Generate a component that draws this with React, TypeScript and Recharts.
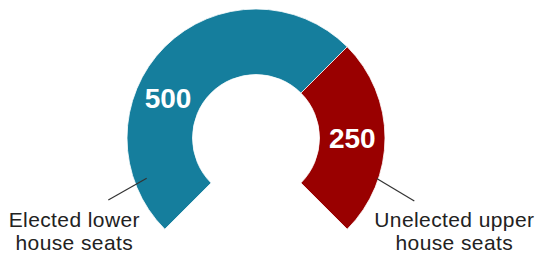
import { PieChart, Pie, Cell } from "recharts"

const categories = ["Elected lower house seats", "Unelected upper house seats"]
const seats = [500, 250]
const colors = ["#157e9d", "#990000"]
const captionLines = [
  ["Elected lower", "house seats"],
  ["Unelected upper", "house seats"],
]

const data = categories.map((name, i) => ({ name, value: seats[i] }))

const RAD = Math.PI / 180
const font = "'Liberation Sans', Arial, Helvetica, sans-serif"

// where the big number sits along the ring (degrees, recharts convention)
const valueAngles = [156, 0]
// leader lines: start/end given as angle + radius from the pie centre
const leaders = [
  { a1: 200.2, r1: 116.5, a2: 202.8, r2: 160.2 },
  { a1: -18.5, r1: 127.3, a2: -21.7, r2: 170.4 },
]
// caption centre relative to the outer end of the leader
const captionOffsets = [
  { dx: -34, dy: 27 },
  { dx: 40, dy: 26 },
]

const polar = (cx: number, cy: number, r: number, a: number) => ({
  x: cx + r * Math.cos(-a * RAD),
  y: cy + r * Math.sin(-a * RAD),
})

function SeatLabel(props: any) {
  const { cx, cy, innerRadius, outerRadius, index, value } = props
  const mid = (innerRadius + outerRadius) / 2
  const p = polar(cx, cy, mid, valueAngles[index])
  const l = leaders[index]
  const s = polar(cx, cy, l.r1, l.a1)
  const e = polar(cx, cy, l.r2, l.a2)
  const off = captionOffsets[index]
  return (
    <g>
      <text
        x={p.x}
        y={p.y}
        textAnchor="middle"
        dominantBaseline="central"
        fill="#fff"
        fontSize={28}
        fontWeight="bold"
        fontFamily={font}
      >
        {value}
      </text>
      <line x1={s.x} y1={s.y} x2={e.x} y2={e.y} stroke="#333" strokeWidth={1.2} />
      <text
        x={e.x + off.dx}
        y={e.y + off.dy}
        textAnchor="middle"
        fill="#222"
        fontSize={21}
        letterSpacing={0.4}
        fontFamily={font}
      >
        {captionLines[index].map((line, i) => (
          <tspan key={i} x={e.x + off.dx} dy={i === 0 ? 0 : 23}>
            {line}
          </tspan>
        ))}
      </text>
    </g>
  )
}

export default function App() {
  return (
    <div style={{ position: "absolute", left: 0, top: 0, background: "#fff" }}>
      <PieChart width={539} height={256} margin={{ top: 0, right: 0, bottom: 0, left: 0 }}>
        <Pie
          data={data}
          dataKey="value"
          nameKey="name"
          cx={256}
          cy={138}
          startAngle={225}
          endAngle={-45}
          innerRadius={63.5}
          outerRadius={129}
          stroke="#ffffff"
          strokeWidth={0.8}
          label={SeatLabel}
          labelLine={false}
          isAnimationActive={false}
        >
          {data.map((d, i) => (
            <Cell key={d.name} fill={colors[i]} />
          ))}
        </Pie>
      </PieChart>
    </div>
  )
}
